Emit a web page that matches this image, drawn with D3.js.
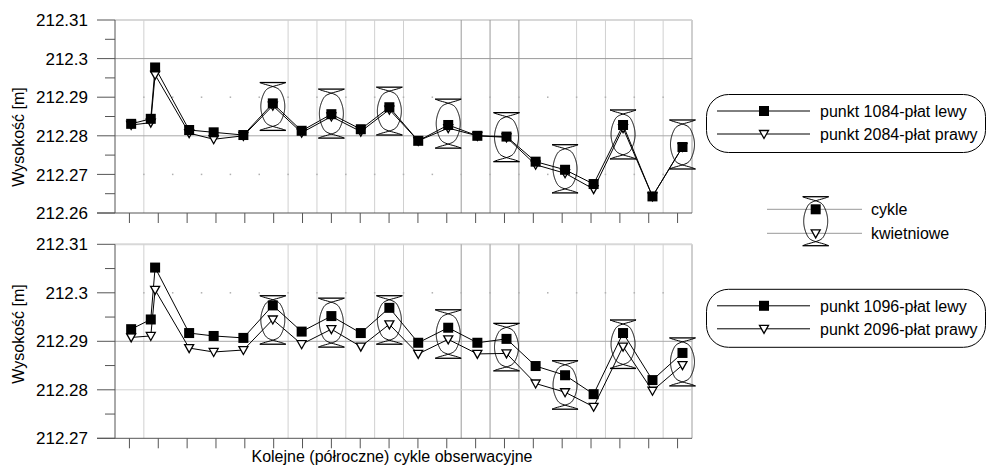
<!DOCTYPE html>
<html>
<head>
<meta charset="utf-8">
<script src="https://cdn.jsdelivr.net/npm/d3@7"></script>
<style>
  body { margin: 0; background: #fff; }
  text { font-family: "Liberation Sans", Arial, sans-serif; fill: #000; }
</style>
</head>
<body>
<div id="chart"></div>
<script>
// semi-annual observation cycles (position along the cycle axis)
var cycles = [1.06, 1.74, 1.89, 3.07, 3.92, 4.95, 5.97, 6.97, 8.0, 9.02, 10.01,
              11.01, 12.05, 13.06, 14.07, 15.08, 16.10, 17.09, 18.11, 19.13, 20.17];
var tickCycles = d3.range(1, 21);

var p1084 = [212.2831, 212.2844, 212.2977, 212.2815, 212.2809, 212.2802, 212.2884, 212.2813, 212.2856, 212.2817, 212.2874,
             212.2787, 212.2828, 212.2800, 212.2798, 212.2733, 212.2712, 212.2675, 212.2828, 212.2643, 212.2771];
var p2084 = [212.2828, 212.2834, 212.2958, 212.2807, 212.2791, 212.2800, 212.2878, 212.2808, 212.2850, 212.2811, 212.2868,
             212.2787, 212.2820, 212.2800, 212.2796, 212.2725, 212.2703, 212.2662, 212.2820, 212.2643, 212.2771];
var p1096 = [212.2925, 212.2945, 212.3052, 212.2917, 212.2911, 212.2907, 212.2974, 212.2920, 212.2952, 212.2917, 212.2969,
             212.2897, 212.2928, 212.2897, 212.2905, 212.2849, 212.2830, 212.2791, 212.2917, 212.2820, 212.2876];
var p2096 = [212.2908, 212.2911, 212.3006, 212.2886, 212.2878, 212.2882, 212.2945, 212.2894, 212.2925, 212.2889, 212.2935,
             212.2874, 212.2904, 212.2874, 212.2875, 212.2813, 212.2795, 212.2765, 212.2889, 212.2798, 212.2851];

// april cycles (index into cycles) with their ranges
var aprilIdx = [6, 8, 10, 12, 14, 16, 18, 20];
var topHi = [212.2938, 212.2921, 212.2926, 212.2895, 212.2860, 212.2777, 212.2867, 212.2841];
var topLo = [212.2814, 212.2794, 212.2802, 212.2768, 212.2733, 212.2652, 212.2740, 212.2714];
var botHi = [212.2994, 212.2989, 212.2994, 212.2965, 212.2937, 212.2860, 212.2944, 212.2907];
var botLo = [212.2894, 212.2888, 212.2894, 212.2865, 212.2839, 212.2760, 212.2844, 212.2808];

var topTicks = [212.26, 212.27, 212.28, 212.29, 212.3, 212.31];
var botTicks = [212.27, 212.28, 212.29, 212.3, 212.31];

var W = 987, H = 466;
var svg = d3.select("#chart").append("svg")
    .attr("width", W).attr("height", H);

var x = d3.scaleLinear().domain([0.5, 20.5]).range([115, 692]);

// gridline boundaries between cycles that are drawn, and the darker ones
var gridShown = [1.5, 6.5, 7.5, 8.5, 9.5, 10.5, 12.5, 13.5, 14.5, 16.5, 17.5, 18.5, 19.5];
var gridDark = [12.5, 13.5, 14.5];

function hourglass(g, cx, yTop, yBot) {
  var rx = 12, hw = 13;
  var line = d3.line();
  [-1, 1].forEach(function (s) {
    var pts = d3.range(0, 1.0001, 0.01).map(function (u) {
      var c = Math.pow(Math.cos(Math.PI * u), 30);
      var b = Math.pow(Math.sin(Math.PI * u), 0.7);
      return [cx + s * rx * b - s * hw * c, yTop + (yBot - yTop) * u];
    });
    g.append("path").attr("d", line(pts))
      .attr("fill", "none").attr("stroke", "#000").attr("stroke-width", 1);
  });
  [yTop, yBot].forEach(function (yy) {
    g.append("line").attr("x1", cx - hw).attr("x2", cx + hw)
      .attr("y1", yy).attr("y2", yy).attr("stroke", "#000").attr("stroke-width", 1.3);
  });
}

function square(g, cx, cy) {
  g.append("rect").attr("x", cx - 5).attr("y", cy - 5)
    .attr("width", 10).attr("height", 10).attr("fill", "#000");
}
function triangle(g, cx, cy) {
  g.append("path")
    .attr("d", "M" + (cx - 4.5) + "," + (cy - 3.5) + "L" + (cx + 4.5) + "," + (cy - 3.5) + "L" + cx + "," + (cy + 4.5) + "Z")
    .attr("fill", "#fff").attr("stroke", "#000").attr("stroke-width", 1.3);
}

function panel(opt) {
  var y = d3.scaleLinear().domain(opt.domain).range([opt.bottom, opt.top]);
  var g = svg.append("g");
  var ticks = opt.ticks;

  // top and right border
  g.append("line").attr("x1", 115).attr("x2", 692).attr("y1", opt.top).attr("y2", opt.top)
    .attr("stroke", "#d8d8d8").attr("stroke-width", 2);
  g.append("line").attr("x1", 692).attr("x2", 692).attr("y1", opt.top).attr("y2", opt.bottom)
    .attr("stroke", "#cfcfcf").attr("stroke-width", 2);

  // vertical grid
  gridShown.forEach(function (c) {
    g.append("line").attr("x1", x(c)).attr("x2", x(c)).attr("y1", opt.top).attr("y2", opt.bottom)
      .attr("stroke", gridDark.indexOf(c) >= 0 ? "#9a9a9a" : "#d0d0d0").attr("stroke-width", 1);
  });
  // horizontal grid
  opt.solid.forEach(function (s) {
    g.append("line").attr("x1", 115).attr("x2", 692).attr("y1", y(s.v)).attr("y2", y(s.v))
      .attr("stroke", s.c).attr("stroke-width", 1);
  });
  opt.dotted.forEach(function (v) {
    d3.range(1.5, 20, 1).forEach(function (c) {
      g.append("rect").attr("x", x(c) - 0.75).attr("y", y(v) - 0.75)
        .attr("width", 1.5).attr("height", 1.5).attr("fill", "#b0b0b0");
    });
  });

  // axes
  g.append("line").attr("x1", 115).attr("x2", 115).attr("y1", opt.top).attr("y2", opt.bottom)
    .attr("stroke", "#555").attr("stroke-width", 1);
  g.append("line").attr("x1", 97).attr("x2", 692).attr("y1", opt.bottom).attr("y2", opt.bottom)
    .attr("stroke", "#555").attr("stroke-width", 1);
  ticks.forEach(function (v) {
    g.append("line").attr("x1", 97).attr("x2", 115).attr("y1", y(v)).attr("y2", y(v))
      .attr("stroke", "#555");
    g.append("text").attr("x", 88).attr("y", y(v)).attr("dy", "0.36em")
      .attr("text-anchor", "end").style("font-size", "17px")
      .text(String(+v.toFixed(2)));
  });
  d3.range(ticks.length - 1).forEach(function (i) {
    var v = (ticks[i] + ticks[i + 1]) / 2;
    g.append("line").attr("x1", 105).attr("x2", 115).attr("y1", y(v)).attr("y2", y(v))
      .attr("stroke", "#555");
  });
  tickCycles.forEach(function (c) {
    g.append("line").attr("x1", x(c)).attr("x2", x(c)).attr("y1", opt.bottom).attr("y2", opt.bottom + 10)
      .attr("stroke", "#555");
  });

  g.append("text").attr("transform", "translate(24," + opt.labelY + ") rotate(-90)")
    .attr("text-anchor", "middle").style("font-size", "16px").text("Wysokość [m]");

  // april ranges
  aprilIdx.forEach(function (k, i) {
    hourglass(g, x(cycles[k]), y(opt.hi[i]), y(opt.lo[i]));
  });

  var line = d3.line().x(function (d, i) { return x(cycles[i]); }).y(function (d) { return y(d); });
  [opt.s2, opt.s1].forEach(function (s) {
    g.append("path").attr("d", line(s)).attr("fill", "none")
      .attr("stroke", "#000").attr("stroke-width", 1);
  });
  opt.s2.forEach(function (d, i) { triangle(g, x(cycles[i]), y(d)); });
  opt.s1.forEach(function (d, i) { square(g, x(cycles[i]), y(d)); });
}

panel({ top: 20, bottom: 213, domain: [212.26, 212.31], ticks: topTicks, labelY: 137,
  solid: [{ v: 212.3, c: "#9a9a9a" }, { v: 212.28, c: "#a8a8a8" }], dotted: [212.29, 212.27],
  s1: p1084, s2: p2084, hi: topHi, lo: topLo });
panel({ top: 244.3, bottom: 438.3, domain: [212.27, 212.31], ticks: botTicks, labelY: 334,
  solid: [{ v: 212.29, c: "#a8a8a8" }, { v: 212.28, c: "#d0d0d0" }], dotted: [212.3],
  s1: p1096, s2: p2096, hi: botHi, lo: botLo });

svg.append("text").attr("x", 392).attr("y", 462).attr("text-anchor", "middle")
  .style("font-size", "16px").text("Kolejne (półroczne) cykle obserwacyjne");

// legends
function seriesLegend(y0, names) {
  var g = svg.append("g");
  g.append("rect").attr("x", 706.5).attr("y", y0).attr("width", 279).attr("height", 58)
    .attr("rx", 22).attr("ry", 22).attr("fill", "none").attr("stroke", "#000");
  [0, 1].forEach(function (i) {
    var yy = y0 + 16.5 + i * 23;
    g.append("line").attr("x1", 717).attr("x2", 810).attr("y1", yy).attr("y2", yy)
      .attr("stroke", "#000");
    if (i === 0) square(g, 764, yy); else triangle(g, 764, yy);
    g.append("text").attr("x", 820).attr("y", yy).attr("dy", "0.36em")
      .style("font-size", "16px").text(names[i]);
  });
}
seriesLegend(94.5, ["punkt 1084-płat lewy", "punkt 2084-płat prawy"]);
seriesLegend(289.3, ["punkt 1096-płat lewy", "punkt 2096-płat prawy"]);

var lg = svg.append("g");
[209.3, 233.3].forEach(function (yy) {
  lg.append("line").attr("x1", 767).attr("x2", 862).attr("y1", yy).attr("y2", yy)
    .attr("stroke", "#999");
});
hourglass(lg, 815.7, 196.7, 245.7);
square(lg, 815.7, 209.3);
triangle(lg, 815.7, 233.3);
lg.append("text").attr("x", 871).attr("y", 209.3).attr("dy", "0.36em").style("font-size", "16px").text("cykle");
lg.append("text").attr("x", 871).attr("y", 233.3).attr("dy", "0.36em").style("font-size", "16px").text("kwietniowe");
</script>
</body>
</html>
